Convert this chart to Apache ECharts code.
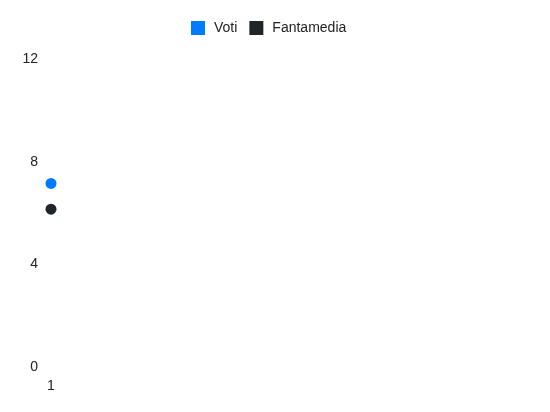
<!DOCTYPE html>
<html>
<head>
	<meta charset="utf-8">
	<title>Voti</title>
	<style>
		html, body { margin: 0; padding: 0; background: #fff; }
		#chart { width: 550px; height: 412px; }
	</style>
</head>
<body>
	<div id="chart"></div>
<script type="text/javascript" src="https://cdn.jsdelivr.net/npm/echarts@6/dist/echarts.min.js"></script>
<script type="text/javascript">
	var giornate = ['1'];
	var voti = [7.15];
	var fantamedia = [6.15];
	var yTicks = [0, 4, 8, 12];

	var myChart = echarts.init(document.getElementById('chart'));

	// una categoria vuota in coda, cosi il punto resta sul bordo sinistro
	var xData = giornate.concat(['']);

	var option = {
		animation: false,
		textStyle: { fontFamily: 'Liberation Sans, Arial, sans-serif' },
		legend: {
			left: 191,
			top: 21,
			padding: 0,
			itemWidth: 14,
			itemHeight: 14,
			itemGap: 12,
			icon: 'rect',
			textStyle: { fontSize: 14, color: '#222', padding: [0, 0, 0, 4] },
			data: ['Voti', 'Fantamedia']
		},
		grid: {
			left: 51,
			right: 10,
			top: 59,
			bottom: 45,
			containLabel: false
		},
		xAxis: {
			type: 'category',
			boundaryGap: false,
			data: xData,
			axisLine: { show: false },
			axisTick: { show: false },
			splitLine: { show: false },
			axisLabel: { margin: 12, fontSize: 14, color: '#222' }
		},
		yAxis: {
			type: 'value',
			min: yTicks[0],
			max: yTicks[yTicks.length - 1],
			interval: yTicks[1] - yTicks[0],
			axisLine: { show: false },
			axisTick: { show: false },
			splitLine: { show: false },
			axisLabel: { margin: 13, fontSize: 14, color: '#222' }
		},
		series: [
			{
				name: 'Voti',
				type: 'line',
				data: voti,
				symbol: 'circle',
				symbolSize: 11,
				showSymbol: true,
				lineStyle: { width: 0 },
				itemStyle: { color: '#007bff' }
			},
			{
				name: 'Fantamedia',
				type: 'line',
				data: fantamedia,
				symbol: 'circle',
				symbolSize: 11,
				showSymbol: true,
				lineStyle: { width: 0 },
				itemStyle: { color: '#212529' }
			}
		]
	};

	myChart.setOption(option);
</script>
</body>
</html>
